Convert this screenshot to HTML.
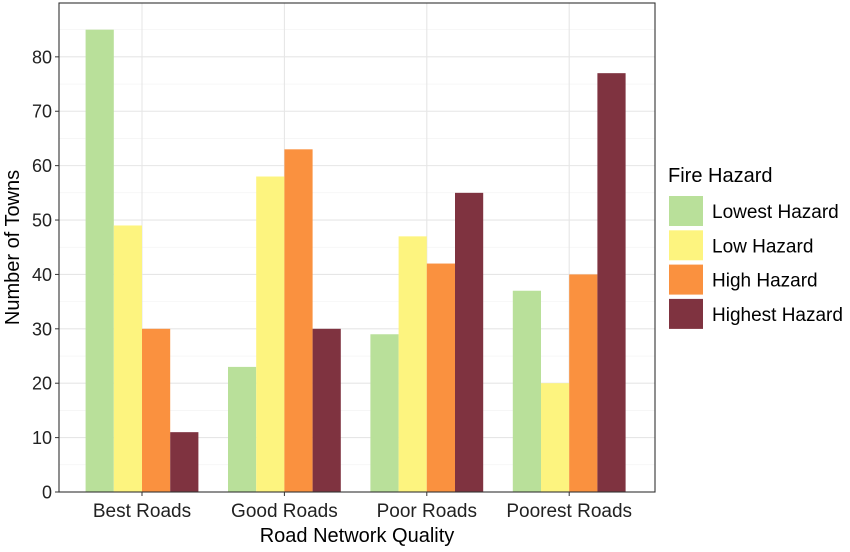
<!DOCTYPE html>
<html><head><meta charset="utf-8"><style>
body{margin:0;background:#fff;font-family:"Liberation Sans",Arial,sans-serif;}
svg text{font-family:"Liberation Sans",Arial,sans-serif;}
</style></head><body>
<svg id="chart" width="850" height="547"></svg>
<script>
const categories=["Best Roads","Good Roads","Poor Roads","Poorest Roads"];
const seriesNames=["Lowest Hazard","Low Hazard","High Hazard","Highest Hazard"];
const lowest=[85,23,29,37];
const low=[49,58,47,20];
const high=[30,63,42,40];
const highest=[11,30,55,77];
const yTicks=[0,10,20,30,40,50,60,70,80];
const colors=["#b9e09a","#fdf47f","#fa913f","#7f3340"];
const series=[lowest,low,high,highest];
const NS="http://www.w3.org/2000/svg";
const svg=document.getElementById('chart');
const L=59,R=655,T=3,B=492,yMax=89.9;
const y=v=>B-(v/yMax)*(B-T);
const step=142.4;
const cx=i=>142+step*i;
const barW=28.2;
function mk(tag,attrs,parent){const e=document.createElementNS(NS,tag);for(const k in attrs)e.setAttribute(k,attrs[k]);(parent||svg).appendChild(e);return e;}
mk('rect',{x:L,y:T,width:R-L,height:B-T,fill:'#fff'});
for(let v=5;v<yMax;v+=10){const g=mk('line',{x1:L,x2:R,y1:y(v),y2:y(v),stroke:'#f2f2f2','stroke-width':0.6});}
yTicks.forEach(v=>{const g=mk('line',{x1:L,x2:R,y1:y(v),y2:y(v),stroke:'#e6e6e6','stroke-width':1.1});
mk('line',{x1:L-4,x2:L,y1:y(v),y2:y(v),stroke:'#333','stroke-width':1});
const tx=mk('text',{x:L-7,y:y(v)+6.5,'text-anchor':'end','font-size':18,fill:'#222'});tx.textContent=v;});
categories.forEach((c,i)=>{const g=mk('line',{x1:cx(i),x2:cx(i),y1:T,y2:B,stroke:'#e6e6e6','stroke-width':1.1});});
categories.forEach((c,i)=>{
series.forEach((s,j)=>{const x=cx(i)-2*barW+j*barW;const r=mk('rect',{x:x,y:y(s[i]),width:barW,height:B-y(s[i]),fill:colors[j]});

});
mk('line',{x1:cx(i),x2:cx(i),y1:B,y2:B+4,stroke:'#333','stroke-width':1});
const t=mk('text',{x:cx(i),y:B+25,'text-anchor':'middle','font-size':19,fill:'#222'});t.textContent=c;
});
const fr=mk('rect',{x:L,y:T,width:R-L,height:B-T,fill:'none',stroke:'#333','stroke-width':1.1});

const xt=mk('text',{x:(L+R)/2,y:542,'text-anchor':'middle','font-size':20,fill:'#000'});xt.textContent='Road Network Quality';

const yt=mk('text',{x:0,y:0,'text-anchor':'middle','font-size':20,fill:'#000',transform:'translate(19,'+((T+B)/2)+') rotate(-90)'});yt.textContent='Number of Towns';

const lt=mk('text',{x:668,y:182,'font-size':20,fill:'#000'});lt.textContent='Fire Hazard';

seriesNames.forEach((n,j)=>{const g=mk('g',{});
const yy=196+j*34.3;mk('rect',{x:669,y:yy,width:34,height:30,fill:colors[j]},g);
const t=mk('text',{x:712,y:yy+22,'font-size':19,fill:'#000'},g);t.textContent=n;});
</script></body></html>
